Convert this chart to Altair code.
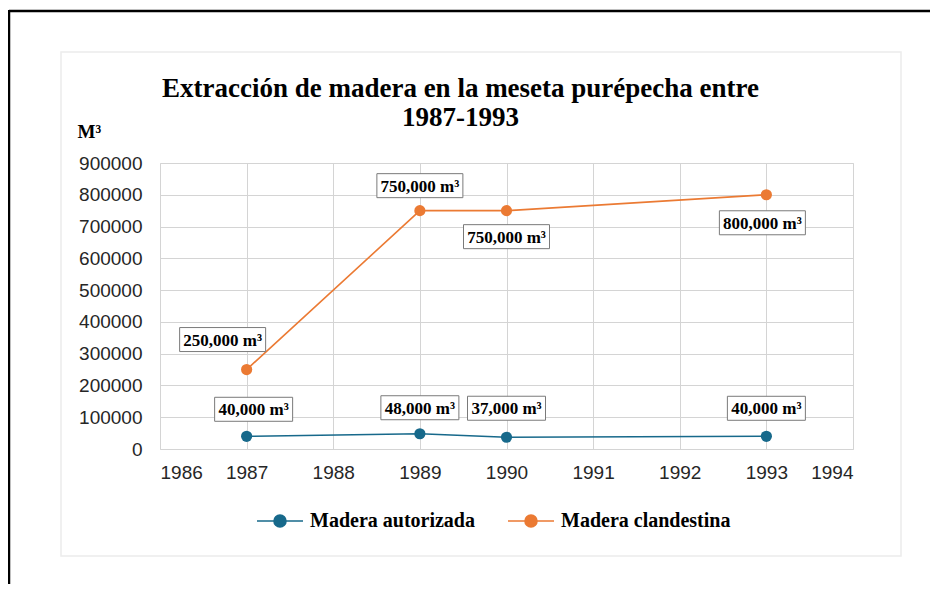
import altair as alt
import pandas as pd

# ---- data ----
years = [1987, 1989, 1990, 1993]
autorizada = [40000, 48000, 37000, 40000]
clandestina = [250000, 750000, 750000, 800000]
series_names = ["Madera autorizada", "Madera clandestina"]
series_colors = ["#17698b", "#eb7a33"]
x_ticks = list(range(1986, 1995))
y_ticks = list(range(0, 900001, 100000))
title_lines = ["Extracción de madera en la meseta purépecha entre", "1987-1993"]
y_title = "M³"

# label box offsets in pixels (styling)
lab_dx_a = [7, 0, 0, 0]
lab_dy_a = [-27, -26, -29, -28]
lab_dx_c = [-24, 0, 0, -4]
lab_dy_c = [-30, -25, 26, 28]

rows = []
for i, yr in enumerate(years):
    rows.append(dict(year=yr, value=autorizada[i], serie=series_names[0], dx=lab_dx_a[i], dy=lab_dy_a[i]))
for i, yr in enumerate(years):
    rows.append(dict(year=yr, value=clandestina[i], serie=series_names[1], dx=lab_dx_c[i], dy=lab_dy_c[i]))
df = pd.DataFrame(rows)
df["label"] = df["value"].map(lambda v: f"{v:,} m³")

W, H = 693, 286
PAD_L, PAD_T = 152, 155

base = alt.Chart(df)

x_enc = alt.X("year:Q", scale=alt.Scale(domain=[1986, 1994], nice=False, zero=False),
              axis=alt.Axis(values=x_ticks, tickCount=20, format="d", title=None, labelFontSize=19,
                            labelFont="Liberation Sans", labelColor="#262626", labelPadding=14,
                            labelOverlap=False, ticks=False, domain=False, grid=True,
                            gridColor="#d4d4d4"))
y_enc = alt.Y("value:Q", scale=alt.Scale(domain=[0, 900000], nice=False),
              axis=alt.Axis(values=y_ticks, tickCount=20, format="d", title=y_title, titleAngle=0,
                            titleAlign="left", titleBaseline="middle", titleX=-83, titleY=-32,
                            titleFont="Liberation Serif", titleFontSize=19, titleFontWeight="bold",
                            titleColor="#000", labelFontSize=19, labelFont="Liberation Sans",
                            labelColor="#262626", labelPadding=18, labelOverlap=False,
                            ticks=False, domain=False, grid=True, gridColor="#d4d4d4"))
color_scale = alt.Scale(domain=series_names, range=series_colors)

legend = alt.Legend(
    title=None, orient="none", direction="horizontal", legendX=109, legendY=347,
    symbolType="M-2.3,0H2.3M0.6,0A0.6,0.6,0,1,1,-0.6,0A0.6,0.6,0,1,1,0.6,0Z",
    symbolSize=400, symbolStrokeWidth=1.6, symbolOpacity=1,
    labelFont="Liberation Serif", labelFontSize=20, labelFontWeight="bold", labelColor="#000",
    labelOffset=19, columnPadding=29, labelLimit=400,
)

one = alt.Chart(pd.DataFrame({"a": [0]}))
frame_box = one.mark_rect(filled=False, stroke="#ececec", strokeWidth=1.5).encode(
    x=alt.value(-99), x2=alt.value(741), y=alt.value(-111), y2=alt.value(393))
black_top = one.mark_rule(color="#000", strokeWidth=2.5).encode(
    x=alt.value(-151), x2=alt.value(780), y=alt.value(-152))
black_left = one.mark_rule(color="#000", strokeWidth=2.5).encode(
    x=alt.value(-151), y=alt.value(-153), y2=alt.value(440))

lines = base.mark_line(strokeWidth=1.6).encode(
    x=x_enc, y=y_enc, color=alt.Color("serie:N", scale=color_scale, legend=legend),
    detail="serie:N")
points = base.mark_circle(size=125, opacity=1).encode(
    x="year:Q", y="value:Q", color=alt.Color("serie:N", scale=color_scale, legend=legend))
boxes = base.mark_rect(fill="white", stroke="#7a7a7a", strokeWidth=1,
                       width=alt.expr("8*length(datum.label)+6"), height=24,
                       xOffset=alt.expr("datum.dx"), yOffset=alt.expr("datum.dy")).encode(
    x="year:Q", y="value:Q")
texts = base.mark_text(font="Liberation Serif", fontSize=17, fontWeight="bold", color="#000",
                       align="center", baseline="middle",
                       dx=alt.expr("datum.dx"), dy=alt.expr("datum.dy + 1")).encode(
    x="year:Q", y="value:Q", text="label:N")

chart = alt.layer(frame_box, black_top, black_left, lines, points, boxes, texts).properties(
    width=W, height=H,
    title=alt.TitleParams(text=title_lines, font="Liberation Serif", fontSize=27,
                          fontWeight="bold", color="#000", lineHeight=29, anchor="middle",
                          dx=-46, dy=131, offset=8),
    autosize=alt.AutoSizeParams(type="none"),
    padding={"left": PAD_L, "top": PAD_T, "right": 77, "bottom": 135},
).configure_view(stroke="#d4d4d4").configure(background="white")

chart.save("out.html", embed_options={"renderer": "svg", "actions": False})
